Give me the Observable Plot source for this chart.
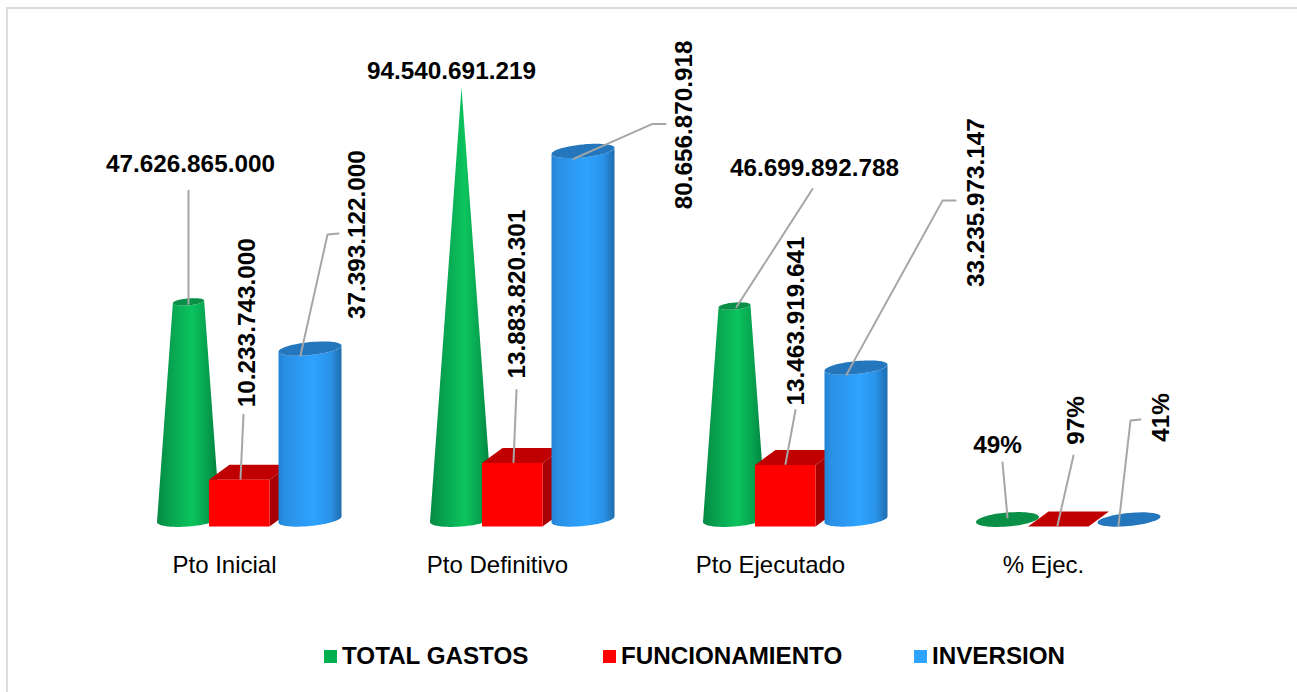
<!DOCTYPE html>
<html lang="es">
<head>
<meta charset="utf-8">
<title>Ejecución presupuestal</title>
<script src="https://cdn.jsdelivr.net/npm/d3@7"></script>
<script src="https://cdn.jsdelivr.net/npm/@observablehq/plot@0.6"></script>
<style>
  html, body { margin: 0; padding: 0; background: #fff; overflow: hidden; }
  body { width: 1297px; height: 692px; position: relative; font-family: "Liberation Sans", Arial, sans-serif; }
  #frame { position: absolute; left: 6px; top: 7px; right: 0; bottom: 0; border-left: 2px solid #dcdcdc; border-top: 2px solid #dcdcdc; }
  #chart { position: absolute; left: 0; top: 0; }
  #legend { position: absolute; left: 0; top: 630px; width: 1297px; height: 50px; }
  .key { position: absolute; top: 12px; display: flex; align-items: center; font-weight: bold; font-size: 24.2px; line-height: 28px; color: #000; white-space: nowrap; }
  .swatch { width: 13px; height: 13px; margin-right: 5px; display: inline-block; }
</style>
</head>
<body>
<div id="frame"></div>
<div id="chart"></div>
<div id="legend"></div>
<script>
const categories = ["Pto Inicial", "Pto Definitivo", "Pto Ejecutado", "% Ejec."];
const totalGastos = [47626865000, 94540691219, 46699892788, 0.49];
const funcionamiento = [10233743000, 13883820301, 13463919641, 0.97];
const inversion = [37393122000, 80656870918, 33235973147, 0.41];
const seriesNames = ["TOTAL GASTOS", "FUNCIONAMIENTO", "INVERSION"];
const seriesColors = ["#00b050", "#ff0000", "#2ea3ff"];

// Scale geometry
const width = 1297, height = 630;
const pxPerCategory = 273;
const pxPerPeso = 4.57e-9;
const y0 = 519;
const xAt = (i, px) => i + px / pxPerCategory;
const yAt = (v, px) => v - px / pxPerPeso;   // px is measured downwards

const coneOff = -36, boxOff = 16, cylOff = 85.5;
const rx = 31.5;
const maxValue = d3.max(totalGastos);

const arc = (cx, cy, rX, rY, shear, a, b, n = 60) =>
  d3.range(n + 1).map(k => {
    const t = a + (b - a) * k / n;
    return {x: cx + rX * Math.cos(t), y: cy + rY * Math.sin(t) - shear * Math.cos(t)};
  });

const toData = (i, v, pts) => pts.map(p => ({x: xAt(i, p.x), y: yAt(v, p.y)}));
const poly = (pts, fill) => Plot.line(pts, {x: "x", y: "y", fill, stroke: "none", curve: "linear-closed"});

function cone(i) {
  const v = totalGastos[i], k = 1 - v / maxValue;
  const rTop = rx * k, ryTop = 7 * k;
  const bottom = toData(i, 0, arc(coneOff, 0, rx, 7, 2.5, Math.PI, 0));
  const top = toData(i, v, arc(coneOff, 0, rTop, ryTop, 2.5 * k, 0, Math.PI));
  return [
    poly([...bottom, ...top], "url(#gradCone)"),
    poly(toData(i, v, arc(coneOff, 0, rTop, ryTop, 2.5 * k, 0, 2 * Math.PI)), "#0a8f47")
  ];
}

function box(i) {
  const v = funcionamiento[i];
  const l = boxOff - 31.5, r = boxOff + 29, bot = 7, dx = 20.5, dy = -15;
  const hgt = v * pxPerPeso;
  const P = (x, up) => ({x: xAt(i, x), y: yAt(0, bot - up)});
  return [
    poly([P(r, 0), P(r + dx, -dy), P(r + dx, hgt - dy), P(r, hgt)], "#a80000"),
    poly([P(l, hgt), P(l + dx, hgt - dy), P(r + dx, hgt - dy), P(r, hgt)], "#c00000"),
    poly([P(l, 0), P(r, 0), P(r, hgt), P(l, hgt)], "#ff0000")
  ];
}

function cylinder(i) {
  const v = inversion[i], ry = 6.5, sh = 3;
  const bottom = toData(i, 0, arc(cylOff, 0, rx, ry, sh, Math.PI, 0));
  const topBack = toData(i, v, arc(cylOff, 0, rx, ry, sh, 0, Math.PI));
  return [
    poly([...bottom, ...topBack], "url(#gradCyl)"),
    poly(toData(i, v, arc(cylOff, 0, rx, ry, sh, 0, 2 * Math.PI)), "#2477bd")
  ];
}

// Manual label placement, in pixels relative to the top of each shape
const labelLayout = [
  {arr: totalGastos,    off: coneOff, i: 0, dx: 2,     dy: -138,  rot: 0,   lead: [[0, 2], [0, -111]]},
  {arr: funcionamiento, off: boxOff,  i: 0, dx: 7,     dy: -150,  rot: -90, lead: [[0, 6], [3, -58]]},
  {arr: inversion,      off: cylOff,  i: 0, dx: 47.5,  dy: -114,  rot: -90, lead: [[-9.5, 7], [17.5, -114], [28.5, -115]]},
  {arr: totalGastos,    off: coneOff, i: 1, dx: -10,   dy: -16,   rot: 0,   lead: null},
  {arr: funcionamiento, off: boxOff,  i: 1, dx: 4,     dy: -162,  rot: -90, lead: [[0, 6], [3, -66]]},
  {arr: inversion,      off: cylOff,  i: 1, dx: 101.5, dy: -26,   rot: -90, lead: [[-9.5, 8], [69.5, -27], [82.5, -27]]},
  {arr: totalGastos,    off: coneOff, i: 2, dx: 80,    dy: -138,  rot: 0,   lead: [[2, 1], [78, -117]]},
  {arr: funcionamiento, off: boxOff,  i: 2, dx: 10,    dy: -137,  rot: -90, lead: [[-1, 6], [9, -48]]},
  {arr: inversion,      off: cylOff,  i: 2, dx: 120.5, dy: -165,  rot: -90, lead: [[-9.5, 7], [86.5, -167], [99.5, -167]]},
  {arr: totalGastos,    off: coneOff, i: 3, dx: -10,   dy: -74,   rot: 0,   lead: [[0, -2], [-5, -57]]},
  {arr: funcionamiento, off: boxOff,  i: 3, dx: 17,    dy: -99,   rot: -90, lead: [[-2, 6], [14, -64]]},
  {arr: inversion,      off: cylOff,  i: 3, dx: 32.5,  dy: -102,  rot: -90, lead: [[-10.5, 6], [1.5, -99], [11.5, -100]]}
];

const fmt = v => v < 1.5 ? Math.round(v * 100) + "%" : String(v).replace(/\B(?=(\d{3})+$)/g, ".");

const leaders = labelLayout.filter(l => l.lead).map(l =>
  Plot.line(l.lead.map(([px, py]) => ({x: xAt(l.i, l.off + px), y: yAt(l.arr[l.i], py)})),
    {x: "x", y: "y", stroke: "#a6a6a6", strokeWidth: 2})
);
const labels = labelLayout.map(l =>
  Plot.text([l], {
    x: d => xAt(d.i, d.off), y: d => d.arr[d.i], dx: l.dx, dy: l.dy, rotate: l.rot,
    text: d => fmt(d.arr[d.i]), fontSize: 24.3, fontWeight: "bold", fill: "#000",
    textAnchor: "middle", lineAnchor: "middle"
  })
);

function defs() {
  const d = d3.create("svg:defs");
  const grad = (id, stops) => {
    const g = d.append("linearGradient").attr("id", id).attr("x1", 0).attr("x2", 1).attr("y1", 0).attr("y2", 0);
    stops.forEach(([o, c]) => g.append("stop").attr("offset", o).attr("stop-color", c));
  };
  grad("gradCone", [[0, "#058a43"], [0.2, "#07a14f"], [0.55, "#0cc45e"], [0.8, "#06a04e"], [1, "#007a3c"]]);
  grad("gradCyl", [[0, "#2382d4"], [0.1, "#2a90e4"], [0.55, "#2ea3ff"], [0.82, "#2a93e8"], [1, "#1f6cae"]]);
  return d.node();
}

const idx = d3.range(categories.length);
const plot = Plot.plot({
  width, height,
  marginLeft: 0, marginRight: 0, marginTop: 0, marginBottom: 75,
  style: {fontFamily: "'Liberation Sans', Arial, sans-serif", background: "transparent"},
  x: {type: "linear", domain: [-0.5, 3.5], range: [224 - pxPerCategory / 2, 1043 + pxPerCategory / 2], axis: null},
  y: {type: "linear", domain: [0, 100e9], range: [y0, y0 - 100e9 * pxPerPeso], axis: null},
  marks: [
    defs,
    ...idx.flatMap(cone),
    ...idx.flatMap(box),
    ...idx.flatMap(cylinder),
    ...leaders,
    ...labels,
    Plot.axisX(idx, {
      anchor: "bottom", tickSize: 0, tickPadding: 0, fontSize: 24, fill: "#000",
      tickFormat: i => categories[i], label: null
    })
  ]
});
document.getElementById("chart").appendChild(plot);

const legendLeft = [324, 603, 914];
const legend = d3.select("#legend");
seriesNames.forEach((name, k) => {
  const key = legend.append("div").attr("class", "key").style("left", legendLeft[k] + "px");
  key.append("span").attr("class", "swatch").style("background", seriesColors[k]);
  key.append("span").text(name);
});
</script>
</body>
</html>
